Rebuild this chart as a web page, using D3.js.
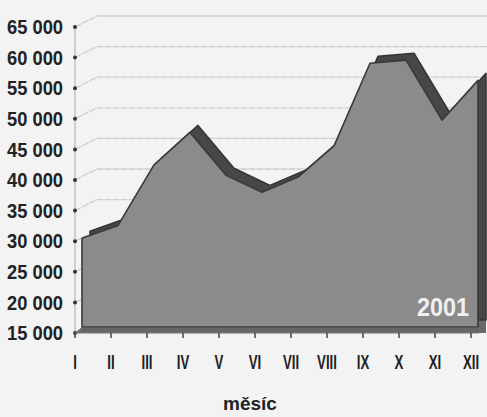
<!DOCTYPE html>
<html lang="cs">
<head>
    <meta charset="UTF-8">
    <title>2001 - měsíc</title>
    <script src="https://d3js.org/d3.v7.min.js"></script>
    <style>
        body { margin: 0; background: #f3f3f3; }
        text { fill: #222; }
    </style>
</head>
<body>
    <div id="chart"></div>
    <script>
        // data
        const months = ['I', 'II', 'III', 'IV', 'V', 'VI', 'VII', 'VIII', 'IX', 'X', 'XI', 'XII'];
        const values2001 = [29500, 31600, 41500, 46800, 39800, 37000, 39500, 44600, 58100, 58600, 48800, 55300];
        const yTicks = [15000, 20000, 25000, 30000, 35000, 40000, 45000, 50000, 55000, 60000, 65000];
        const seriesName = '2001';
        const axisTitle = 'měsíc';

        const width = 487, height = 417;
        const font = '"Liberation Sans", Arial, sans-serif';

        const svg = d3.select('#chart').append('svg')
            .attr('width', width)
            .attr('height', height);

        svg.append('rect').attr('width', width).attr('height', height).attr('fill', '#f3f3f3');

        const x = d3.scalePoint().domain(months).range([75, 471]);
        const y = d3.scaleLinear().domain([15000, 65000]).range([333, 27]);

        const fmt = d3.formatLocale({ decimal: ',', thousands: ' ', grouping: [3], currency: ['', ''] }).format(',d');

        // squeeze a text horizontally (no narrow font installed)
        function squeeze(sel, k) {
            sel.each(function () {
                const w = this.getComputedTextLength();
                d3.select(this).attr('textLength', w * k).attr('lengthAdjust', 'spacingAndGlyphs');
            });
        }

        // 3d offsets: back wall, front face of the area, depth of the area
        const wall = { dx: 22, dy: -11 };
        const face = { dx: 7, dy: -6 };
        const depth = { dx: 8, dy: -7 };

        // gridlines on the back wall
        const grid = svg.append('g');
        yTicks.forEach(t => {
            grid.append('path')
                .attr('d', `M75,${y(t)}L${75 + wall.dx},${y(t) + wall.dy}H${width}`)
                .attr('fill', 'none')
                .attr('stroke', '#cdcdcd')
                .attr('stroke-width', 1.3)
                .attr('stroke-dasharray', '7,1');
        });

        // floor strip
        const xr = x.range()[1];
        svg.append('path')
            .attr('d', `M75,333L${xr + face.dx + depth.dx},333L${xr + face.dx + depth.dx},${333 + face.dy + depth.dy}L${75 + face.dx},${333 + face.dy}Z`)
            .attr('fill', '#6a6a6a');

        const area = d3.area()
            .x((d, i) => x(months[i]))
            .y0(y(15000))
            .y1(d => y(d));

        // back copy of the area (shows as top band and right side)
        svg.append('path')
            .datum(values2001)
            .attr('transform', `translate(${face.dx + depth.dx},${face.dy + depth.dy})`)
            .attr('d', area)
            .attr('fill', '#474747')
            .attr('stroke', '#333')
            .attr('stroke-width', 1.5)
            .attr('stroke-linejoin', 'round');

        // front face
        svg.append('path')
            .datum(values2001)
            .attr('transform', `translate(${face.dx},${face.dy})`)
            .attr('d', area)
            .attr('fill', '#8b8b8b')
            .attr('stroke', '#3a3a3a')
            .attr('stroke-width', 1.6)
            .attr('stroke-linejoin', 'round');

        // bottom edge of the front face
        svg.append('line')
            .attr('x1', 75 + face.dx).attr('x2', xr + face.dx)
            .attr('y1', 330).attr('y2', 330)
            .attr('stroke', '#666').attr('stroke-width', 5);

        // y axis
        svg.append('line')
            .attr('x1', 75).attr('x2', 75)
            .attr('y1', y(65000)).attr('y2', y(15000))
            .attr('stroke', '#aaa').attr('stroke-width', 1);

        const yAxis = svg.append('g');
        yTicks.forEach(t => {
            yAxis.append('circle')
                .attr('cx', 75).attr('cy', y(t)).attr('r', 2)
                .attr('fill', '#333');
            yAxis.append('text')
                .attr('x', 63).attr('y', y(t))
                .attr('dy', '0.36em')
                .attr('text-anchor', 'end')
                .style('font-family', font)
                .style('font-weight', 'bold')
                .style('font-size', '20px')
                .attr('textLength', 56)
                .attr('lengthAdjust', 'spacingAndGlyphs')
                .text(fmt(t));
        });

        // x axis
        svg.append('line')
            .attr('x1', 73).attr('x2', xr + 8)
            .attr('y1', 333).attr('y2', 333)
            .attr('stroke', '#777').attr('stroke-width', 1);

        const xAxis = svg.append('g');
        months.forEach(m => {
            xAxis.append('line')
                .attr('x1', x(m)).attr('x2', x(m))
                .attr('y1', 333).attr('y2', 338)
                .attr('stroke', '#444').attr('stroke-width', 1.5);
            xAxis.append('text')
                .attr('x', x(m)).attr('y', 362)
                .attr('dy', '0.36em')
                .attr('text-anchor', 'middle')
                .style('font-family', font)
                .style('font-weight', 'bold')
                .style('font-size', '20px')
                .text(m)
                .call(squeeze, 0.66);
        });

        // series label inside the area
        svg.append('text')
            .attr('x', 443).attr('y', 307)
            .attr('dy', '0.36em')
            .attr('text-anchor', 'middle')
            .style('fill', '#f0f0f0')
            .style('font-family', font)
            .style('font-weight', 'bold')
            .style('font-size', '26px')
            .attr('textLength', 52)
            .attr('lengthAdjust', 'spacingAndGlyphs')
            .text(seriesName);

        // axis title
        svg.append('text')
            .attr('x', 250).attr('y', 403)
            .attr('dy', '0.36em')
            .attr('text-anchor', 'middle')
            .style('font-family', font)
            .style('font-weight', 'bold')
            .style('font-size', '19px')
            .text(axisTitle);
    </script>
</body>
</html>
